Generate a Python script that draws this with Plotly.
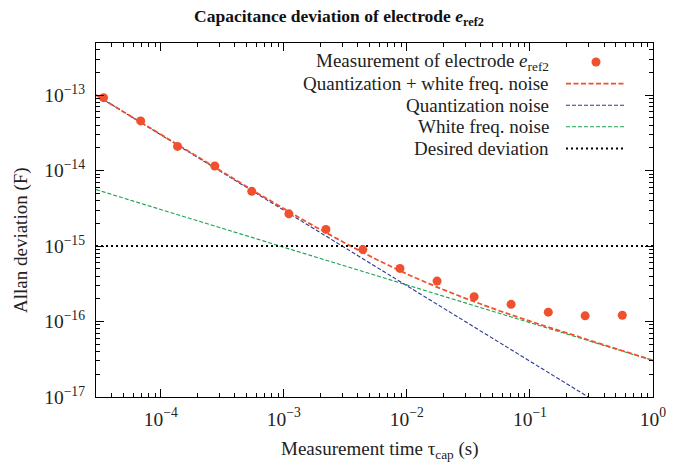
import plotly.graph_objects as go

# Measured Allan deviation of electrode e_ref2
tau_meas = [3.43e-5, 6.87e-5, 1.37e-4, 2.75e-4, 5.49e-4, 1.10e-3, 2.20e-3, 4.39e-3,
            8.79e-3, 1.76e-2, 3.52e-2, 7.03e-2, 0.141, 0.281, 0.563]
adev_meas = [9.25e-14, 4.55e-14, 2.09e-14, 1.15e-14, 5.30e-15, 2.67e-15, 1.66e-15, 8.97e-16,
             5.05e-16, 3.43e-16, 2.13e-16, 1.69e-16, 1.33e-16, 1.19e-16, 1.21e-16]

# Model curves
tau_fit = [2.98e-5, 5.62e-5, 1.0e-4, 1.78e-4, 3.16e-4, 5.62e-4, 1.0e-3, 1.78e-3, 3.16e-3,
           5.62e-3, 1.0e-2, 1.78e-2, 3.16e-2, 5.62e-2, 0.1, 0.178, 0.316, 0.562, 1.0]
adev_fit = [1.0e-13, 5.31e-14, 2.99e-14, 1.69e-14, 9.57e-15, 5.45e-15, 3.13e-15, 1.82e-15,
            1.09e-15, 6.68e-16, 4.26e-16, 2.83e-16, 1.96e-16, 1.39e-16, 1.01e-16, 7.42e-17,
            5.50e-17, 4.10e-17, 3.06e-17]
tau_quant = [2.98e-5, 1.0]
adev_quant = [1.0e-13, 2.98e-18]
tau_white = [2.98e-5, 1.0]
adev_white = [5.59e-15, 3.05e-17]
tau_desired = [2.98e-5, 1.0]
adev_desired = [1e-15, 1e-15]

# Tick labels
x_tickvals = [1e-4, 1e-3, 1e-2, 1e-1, 1]
x_ticktext = ["10<sup>−4</sup>", "10<sup>−3</sup>", "10<sup>−2</sup>", "10<sup>−1</sup>", "10<sup>0</sup>"]
y_tickvals = [1e-17, 1e-16, 1e-15, 1e-14, 1e-13]
y_ticktext = ["10<sup>−17</sup>", "10<sup>−16</sup>", "10<sup>−15</sup>", "10<sup>−14</sup>", "10<sup>−13</sup>"]

RED = "#F0502D"
BLUE = "#2B3990"
GREEN = "#1BA350"
FONT = "Liberation Serif"
TXT = "#222"

W, H = 678, 467
ML, MR, MT, MB = 96, 25, 43, 70
PX0, PX1 = ML, W - MR
PY0, PY1 = MT, H - MB


def px(xp):
    return (xp - PX0) / (PX1 - PX0)


def py(yp):
    return (PY1 - yp) / (PY1 - PY0)


fig = go.Figure()
fig.add_trace(go.Scatter(x=tau_white, y=adev_white, mode="lines",
                         line=dict(color=GREEN, width=1.1, dash="4px,2px"), showlegend=False))
fig.add_trace(go.Scatter(x=tau_quant, y=adev_quant, mode="lines",
                         line=dict(color=BLUE, width=1.1, dash="4px,2px"), showlegend=False))
fig.add_trace(go.Scatter(x=tau_fit, y=adev_fit, mode="lines",
                         line=dict(color=RED, width=1.8, dash="5px,2.5px"), showlegend=False))
fig.add_trace(go.Scatter(x=tau_desired, y=adev_desired, mode="lines",
                         line=dict(color="black", width=2, dash="2px,3px"), showlegend=False))
fig.add_trace(go.Scatter(x=tau_meas, y=adev_meas, mode="markers",
                         marker=dict(color=RED, size=9), showlegend=False))

# Legend drawn manually (text right-aligned, key on the right)
legend_items = [
    ("Measurement of electrode <i>e</i><sub>ref2</sub>", "marker", RED, None, None),
    ("Quantization + white freq. noise", "line", RED, 1.8, "5px,2.5px"),
    ("Quantization noise", "line", BLUE, 1.1, "4px,2px"),
    ("White freq. noise", "line", GREEN, 1.1, "4px,2px"),
    ("Desired deviation", "line", "black", 2, "2px,3px"),
]
text_right = 551
key_x0, key_x1 = 566, 626
row0, row_dy = 62, 21.6
for i, (label, kind, color, width, dash) in enumerate(legend_items):
    yp = row0 + i * row_dy
    fig.add_annotation(x=px(text_right), y=py(yp), xref="paper", yref="paper",
                       text=label, showarrow=False, xanchor="right", yanchor="middle",
                       font=dict(family=FONT, size=19, color=TXT))
    if kind == "marker":
        r = 4.5
        fig.add_shape(type="circle", xref="paper", yref="paper",
                      x0=px(596 - r), x1=px(596 + r), y0=py(yp + r), y1=py(yp - r),
                      fillcolor=color, line=dict(width=0))
    else:
        fig.add_shape(type="line", xref="paper", yref="paper",
                      x0=px(key_x0), x1=px(key_x1), y0=py(yp), y1=py(yp),
                      line=dict(color=color, width=width, dash=dash))

# Axis titles as annotations (for exact placement)
fig.add_annotation(x=px(380), y=py(450), xref="paper", yref="paper", showarrow=False,
                   text="Measurement time τ<sub>cap</sub> (s)", xanchor="center", yanchor="middle",
                   font=dict(family=FONT, size=19, color=TXT))
fig.add_annotation(x=px(21), y=py(240), xref="paper", yref="paper", showarrow=False,
                   text="Allan deviation (F)", textangle=-90, xanchor="center", yanchor="middle",
                   font=dict(family=FONT, size=19, color=TXT))

axis_common = dict(
    type="log", showline=True, linecolor="black", linewidth=1.2, mirror="ticks",
    ticks="inside", ticklen=8, tickwidth=1, tickcolor="black",
    showgrid=False, zeroline=False, tickmode="array",
    tickfont=dict(family=FONT, size=19.5, color=TXT),
    minor=dict(ticks="inside", ticklen=4, tickcolor="black", tickwidth=1, dtick="D1", showgrid=False),
)

fig.update_layout(
    width=W, height=H,
    margin=dict(l=ML, r=MR, t=MT, b=MB),
    plot_bgcolor="white", paper_bgcolor="white",
    title=dict(text="<b>Capacitance deviation of electrode <i>e</i><sub>ref2</sub></b>",
               x=0.5, xanchor="center", y=1 - 16 / H, yanchor="middle",
               font=dict(family=FONT, size=17.5, color="#111")),
    xaxis=dict(range=[-4.526, 0], tickvals=x_tickvals, ticktext=x_ticktext,
               ticklabelstandoff=4, **axis_common),
    yaxis=dict(range=[-17, -12.31], tickvals=y_tickvals, ticktext=y_ticktext,
               ticklabelstandoff=6, **axis_common),
    showlegend=False,
)

fig.write_html("out.html")
